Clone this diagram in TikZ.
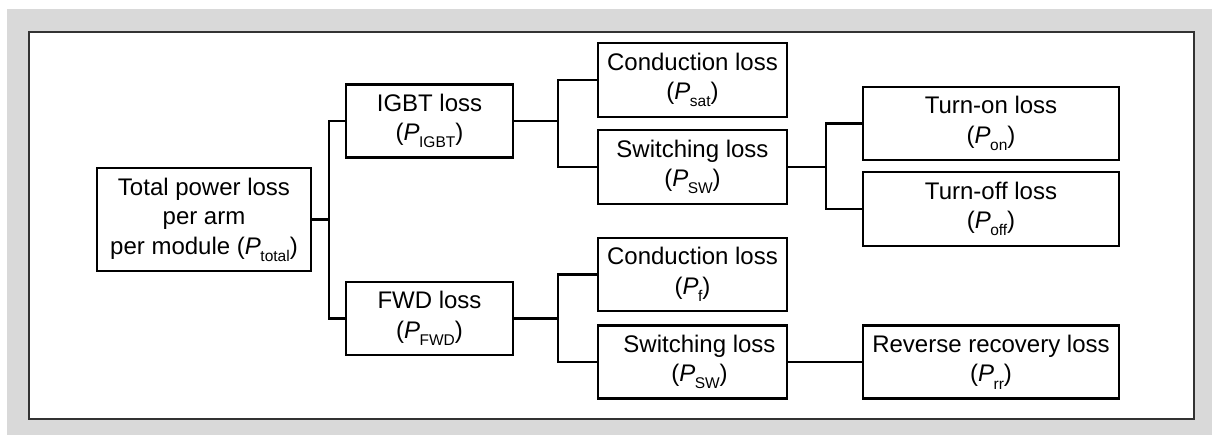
\documentclass[tikz,border=0pt]{standalone}
\usepackage{fontspec}
\setmainfont{Liberation Sans}
\newcommand{\sbs}[1]{\raisebox{-0.3em}{\fontsize{15.5}{15.5}\selectfont #1}}
\newcommand{\PP}[1]{(\textit{P}\kern-0.5pt\sbs{#1})}
\begin{document}
\begin{tikzpicture}[x=1pt,y=-1pt,
  box/.style={draw=black, line width=2.2pt, fill=white, rectangle, inner sep=0pt, align=center,
    font=\fontsize{24}{29.5}\selectfont},
  wire/.style={line width=2.2pt, line join=miter}]
\useasboundingbox (0,0) rectangle (1212,435);
\fill[white] (0,0) rectangle (1212,435);
\fill[black!15] (7,9) rectangle (1212,435);
\draw[fill=white, draw=black!80, line width=1.2pt] (29,32) rectangle (1194,419);

\node[box, minimum width=214pt, minimum height=103pt] (tot) at (204,219.5) {Total power loss\\per arm\\per module \PP{total}};
\node[box, minimum width=167pt, minimum height=73pt] (igbt) at (429.5,121) {IGBT loss\\\PP{IGBT}};
\node[box, minimum width=167pt, minimum height=73pt] (fwd) at (429.5,318.5) {FWD loss\\\PP{FWD}};
\node[box, minimum width=189pt, minimum height=74pt] (csat) at (692.5,80) {Conduction loss\\\PP{sat}};
\node[box, minimum width=189pt, minimum height=74pt] (swi) at (692.5,167) {Switching loss\\\PP{SW}};
\node[box, minimum width=189pt, minimum height=73pt] (cf) at (692.5,274.5) {Conduction loss\\\PP{f}};
\node[box, minimum width=189pt, minimum height=73pt] (swf) at (692.5,362) {\hspace*{14pt}Switching loss\\\hspace*{14pt}\PP{SW}};
\node[box, minimum width=256pt, minimum height=73pt] (on) at (991,123.5) {Turn-on loss\\\PP{on}};
\node[box, minimum width=256pt, minimum height=74pt] (off) at (991,209) {Turn-off loss\\\PP{off}};
\node[box, minimum width=256pt, minimum height=73pt] (rr) at (991,362) {Reverse recovery loss\\\PP{rr}};

\draw[wire] (tot.east) -- ++(17,0) |- (igbt.west);
\draw[wire] (tot.east) -- ++(17,0) |- (fwd.west);
\draw[wire] (igbt.east) -- ++(44,0) |- (csat.west);
\draw[wire] (igbt.east) -- ++(44,0) |- (swi.west);
\draw[wire] (fwd.east) -- ++(44,0) |- (cf.west);
\draw[wire] (fwd.east) -- ++(44,0) |- (swf.west);
\draw[wire] (swi.east) -- ++(38,0) |- (on.west);
\draw[wire] (swi.east) -- ++(38,0) |- (off.west);
\draw[wire] (swf.east) -- (rr.west);
\end{tikzpicture}
\end{document}
